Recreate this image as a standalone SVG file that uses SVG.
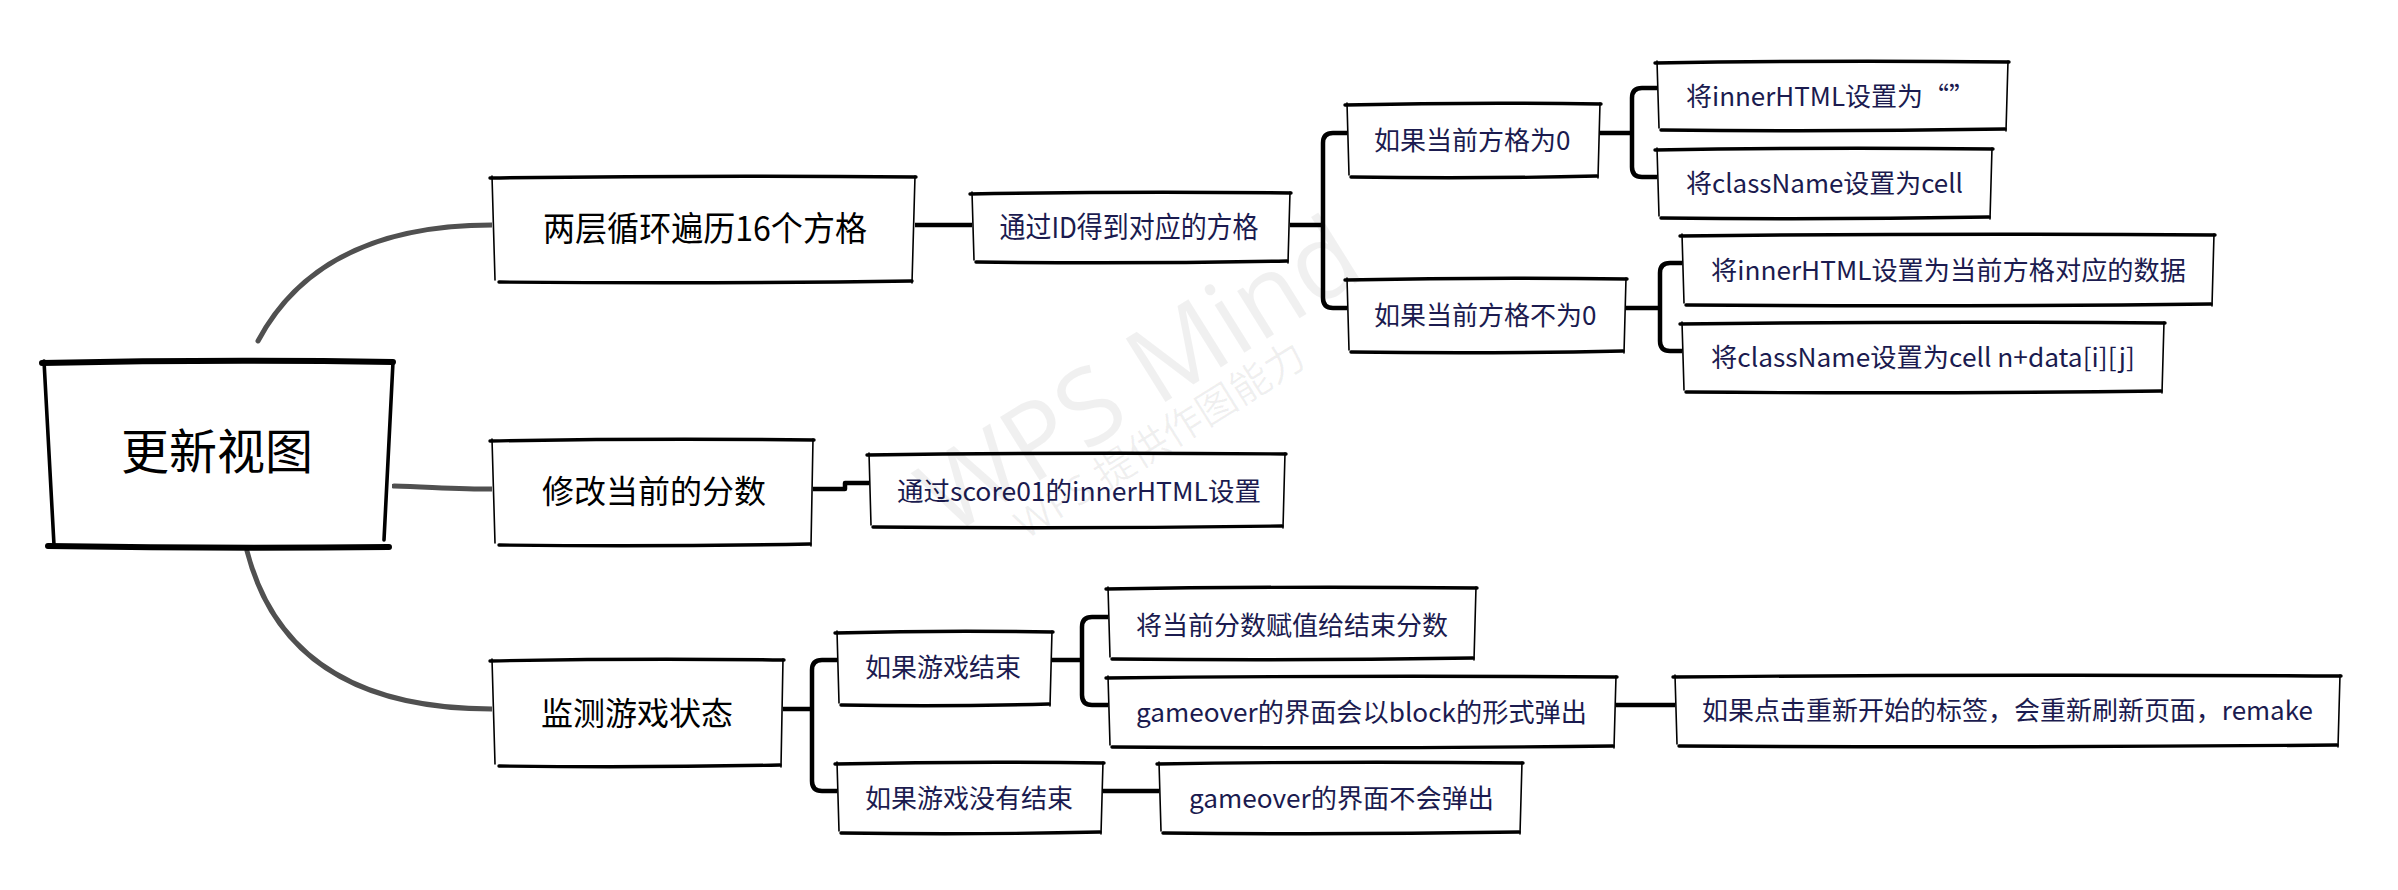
<svg xmlns="http://www.w3.org/2000/svg" width="2398" height="890" viewBox="0 0 2398 890">
<style>
.bg{fill:#fff;stroke:none}
.eh{fill:none;stroke:#000;stroke-width:3.4;stroke-linecap:round}
.ev{fill:none;stroke:#000;stroke-width:1.6;stroke-linecap:round}
.rh{fill:none;stroke:#000;stroke-width:6;stroke-linecap:round}
.rv{fill:none;stroke:#000;stroke-width:3.6;stroke-linecap:round}
.t{font-family:"Noto Sans CJK SC","Noto Sans",sans-serif;fill:#1b1b4f;font-size:26px}
.tm{font-family:"Noto Sans CJK SC","Noto Sans",sans-serif;fill:#000}
.cv{fill:none;stroke:#505050;stroke-width:5;stroke-linecap:round}
.br{fill:none;stroke:#000;stroke-width:4.5;stroke-linejoin:round}
.wm{font-family:"Open Sans","Noto Sans CJK SC",sans-serif;fill:#000;fill-opacity:0.06}
</style>
<rect width="2398" height="890" fill="#fff"/>
<g id="connectors">
<path class="cv" d="M258,341 C300,262 380,225 492,225"/>
<path class="cv" d="M394,486 C430,487 460,489 492,489"/>
<path class="cv" d="M247,551 C275,660 360,709 492,709"/>
<path class="br" d="M909,225 L973,225"/>
<path class="br" d="M811,489 L845,489 L845,483 L869,483"/>
<path class="br" d="M781,709 L812,709"/>
<path class="br" d="M837,660 L822,660 Q812,660 812,670 L812,781 Q812,791 822,791 L837,791"/>
<path class="br" d="M1288,225 L1323,225"/>
<path class="br" d="M1347,133 L1333,133 Q1323,133 1323,143 L1323,298 Q1323,308 1333,308 L1347,308"/>
<path class="br" d="M1599,133 L1632,133"/>
<path class="br" d="M1657,88 L1642,88 Q1632,88 1632,98 L1632,167 Q1632,177 1642,177 L1657,177"/>
<path class="br" d="M1625,308 L1660,308"/>
<path class="br" d="M1682,263 L1670,263 Q1660,263 1660,273 L1660,341 Q1660,351 1670,351 L1682,351"/>
<path class="br" d="M1051,660 L1082,660"/>
<path class="br" d="M1108,617 L1092,617 Q1082,617 1082,627 L1082,695 Q1082,705 1092,705 L1108,705"/>
<path class="br" d="M1615,705 L1675,705"/>
<path class="br" d="M1102,791 L1159,791"/>
</g>
<g id="n-root">
<rect class="bg" x="44" y="362" width="348" height="184"/>
<path class="rh" d="M42,363 Q218,359 393,362"/><path class="rh" d="M48,546 Q220,549 389,547"/>
<path class="rv" d="M44,361 L54,545"/><path class="rv" d="M393,362 L384,540"/>
<text class="tm" x="217" y="469" font-size="48" text-anchor="middle">更新视图</text>
</g>
<g id="n-b1">
<rect class="bg" x="492" y="177" width="423" height="105"/>
<path class="eh" d="M490,178 Q703,175 916,177"/><path class="eh" d="M499,282 Q703,284 912,281"/>
<path class="ev" d="M492,176 L495,280"/><path class="ev" d="M915,176 L912,283"/>
<text class="tm" x="705" y="241" font-size="34" text-anchor="middle" textLength="324" lengthAdjust="spacingAndGlyphs">两层循环遍历16个方格</text>
</g>
<g id="n-b2">
<rect class="bg" x="492" y="440" width="321" height="105"/>
<path class="eh" d="M490,441 Q652,438 814,440"/><path class="eh" d="M499,545 Q652,547 810,544"/>
<path class="ev" d="M492,439 L495,543"/><path class="ev" d="M813,439 L811,546"/>
<text class="tm" x="654" y="503" font-size="32" text-anchor="middle">修改当前的分数</text>
</g>
<g id="n-b3">
<rect class="bg" x="492" y="660" width="291" height="106"/>
<path class="eh" d="M490,661 Q637,658 784,660"/><path class="eh" d="M499,766 Q637,768 780,765"/>
<path class="ev" d="M492,659 L495,764"/><path class="ev" d="M783,659 L781,767"/>
<text class="tm" x="637" y="725" font-size="32" text-anchor="middle">监测游戏状态</text>
</g>
<g id="n-c1">
<rect class="bg" x="972" y="193" width="318" height="69"/>
<path class="eh" d="M970,194 Q1131,191 1291,193"/><path class="eh" d="M976,262 Q1131,264 1287,261"/>
<path class="ev" d="M972,192 L974,260"/><path class="ev" d="M1290,192 L1288,263"/>
<text class="t" x="1129" y="238" style="font-size:29px" text-anchor="middle" textLength="259" lengthAdjust="spacingAndGlyphs">通过ID得到对应的方格</text>
</g>
<g id="n-c2">
<rect class="bg" x="869" y="454" width="416" height="73"/>
<path class="eh" d="M867,455 Q1077,452 1286,454"/><path class="eh" d="M873,527 Q1077,529 1282,526"/>
<path class="ev" d="M869,453 L871,525"/><path class="ev" d="M1285,453 L1283,528"/>
<text class="t" x="897" y="501" textLength="364" lengthAdjust="spacingAndGlyphs">通过score01的innerHTML设置</text>
</g>
<g id="n-d1">
<rect class="bg" x="1347" y="104" width="253" height="73"/>
<path class="eh" d="M1345,105 Q1473,102 1601,104"/><path class="eh" d="M1351,177 Q1473,179 1597,176"/>
<path class="ev" d="M1347,103 L1349,175"/><path class="ev" d="M1600,103 L1598,178"/>
<text class="t" x="1374" y="150">如果当前方格为0</text>
</g>
<g id="n-d2">
<rect class="bg" x="1347" y="279" width="279" height="73"/>
<path class="eh" d="M1345,280 Q1486,277 1627,279"/><path class="eh" d="M1351,352 Q1486,354 1623,351"/>
<path class="ev" d="M1347,278 L1349,350"/><path class="ev" d="M1626,278 L1624,353"/>
<text class="t" x="1374" y="325">如果当前方格不为0</text>
</g>
<g id="n-e1">
<rect class="bg" x="1657" y="62" width="351" height="68"/>
<path class="eh" d="M1655,63 Q1832,60 2009,62"/><path class="eh" d="M1661,130 Q1832,132 2005,129"/>
<path class="ev" d="M1657,61 L1659,128"/><path class="ev" d="M2008,61 L2006,131"/>
<text class="t" x="1686" y="106">将innerHTML设置为“”</text>
</g>
<g id="n-e2">
<rect class="bg" x="1657" y="149" width="335" height="69"/>
<path class="eh" d="M1655,150 Q1824,147 1993,149"/><path class="eh" d="M1661,218 Q1824,220 1989,217"/>
<path class="ev" d="M1657,148 L1659,216"/><path class="ev" d="M1992,148 L1990,219"/>
<text class="t" x="1686" y="193" textLength="277" lengthAdjust="spacingAndGlyphs">将className设置为cell</text>
</g>
<g id="n-e3">
<rect class="bg" x="1682" y="235" width="532" height="70"/>
<path class="eh" d="M1680,236 Q1948,233 2215,235"/><path class="eh" d="M1686,305 Q1948,307 2211,304"/>
<path class="ev" d="M1682,234 L1684,303"/><path class="ev" d="M2214,234 L2212,306"/>
<text class="t" x="1711" y="280" textLength="475" lengthAdjust="spacingAndGlyphs">将innerHTML设置为当前方格对应的数据</text>
</g>
<g id="n-e4">
<rect class="bg" x="1682" y="323" width="482" height="69"/>
<path class="eh" d="M1680,324 Q1923,321 2165,323"/><path class="eh" d="M1686,392 Q1923,394 2161,391"/>
<path class="ev" d="M1682,322 L1684,390"/><path class="ev" d="M2164,322 L2162,393"/>
<text class="t" x="1711" y="367" textLength="424" lengthAdjust="spacingAndGlyphs">将className设置为cell n+data[i][j]</text>
</g>
<g id="n-f1">
<rect class="bg" x="837" y="632" width="215" height="73"/>
<path class="eh" d="M835,633 Q944,630 1053,632"/><path class="eh" d="M841,705 Q944,707 1049,704"/>
<path class="ev" d="M837,631 L839,703"/><path class="ev" d="M1052,631 L1050,706"/>
<text class="t" x="865" y="677">如果游戏结束</text>
</g>
<g id="n-f2">
<rect class="bg" x="837" y="763" width="266" height="70"/>
<path class="eh" d="M835,764 Q970,761 1104,763"/><path class="eh" d="M841,833 Q970,835 1100,832"/>
<path class="ev" d="M837,762 L839,831"/><path class="ev" d="M1103,762 L1101,834"/>
<text class="t" x="865" y="808">如果游戏没有结束</text>
</g>
<g id="n-g1">
<rect class="bg" x="1108" y="588" width="368" height="71"/>
<path class="eh" d="M1106,589 Q1292,586 1477,588"/><path class="eh" d="M1112,659 Q1292,661 1473,658"/>
<path class="ev" d="M1108,587 L1110,657"/><path class="ev" d="M1476,587 L1474,660"/>
<text class="t" x="1136" y="635">将当前分数赋值给结束分数</text>
</g>
<g id="n-g2">
<rect class="bg" x="1108" y="677" width="508" height="70"/>
<path class="eh" d="M1106,678 Q1362,675 1617,677"/><path class="eh" d="M1112,747 Q1362,749 1613,746"/>
<path class="ev" d="M1108,676 L1110,745"/><path class="ev" d="M1616,676 L1614,748"/>
<text class="t" x="1136" y="722" textLength="451" lengthAdjust="spacingAndGlyphs">gameover的界面会以block的形式弹出</text>
</g>
<g id="n-g3">
<rect class="bg" x="1159" y="763" width="363" height="70"/>
<path class="eh" d="M1157,764 Q1340,761 1523,763"/><path class="eh" d="M1163,833 Q1340,835 1519,832"/>
<path class="ev" d="M1159,762 L1161,831"/><path class="ev" d="M1522,762 L1520,834"/>
<text class="t" x="1189" y="808" textLength="305" lengthAdjust="spacingAndGlyphs">gameover的界面不会弹出</text>
</g>
<g id="n-h1">
<rect class="bg" x="1675" y="676" width="665" height="70"/>
<path class="eh" d="M1673,677 Q2007,674 2341,676"/><path class="eh" d="M1679,746 Q2007,748 2337,745"/>
<path class="ev" d="M1675,675 L1677,744"/><path class="ev" d="M2340,675 L2338,747"/>
<text class="t" x="1702" y="720" textLength="611" lengthAdjust="spacingAndGlyphs">如果点击重新开始的标签，会重新刷新页面，remake</text>
</g>
<g id="watermark" class="wm">
<text x="1139" y="412" font-size="105" text-anchor="middle" transform="rotate(-32 1139 375)">WPS Mind</text>
<text x="1160" y="454" font-size="40" text-anchor="middle" transform="rotate(-32 1160 440)">WPS 提供作图能力</text>
</g>
</svg>
